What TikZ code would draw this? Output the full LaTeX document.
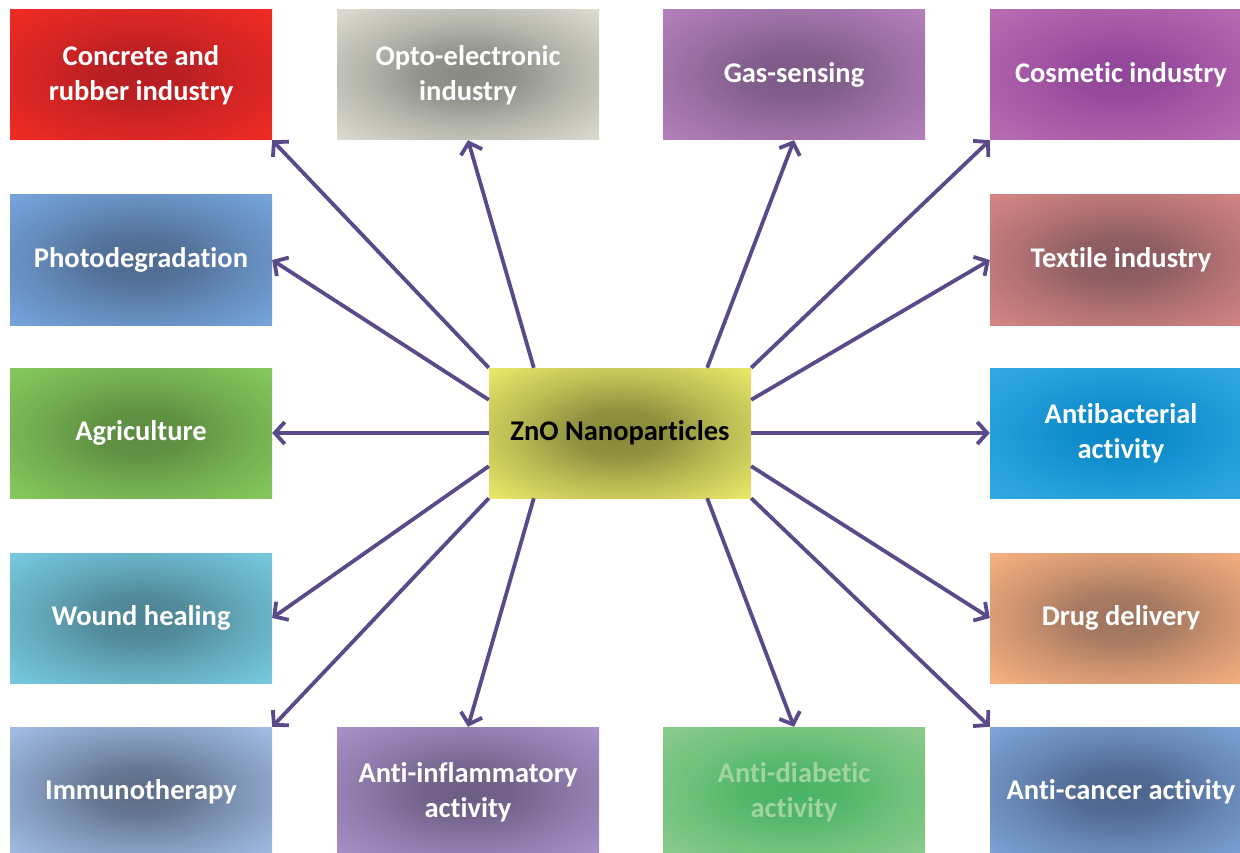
\documentclass[tikz,border=0pt]{standalone}
\usepackage{fontspec}
\setmainfont{Carlito}[Ligatures=NoCommon]
\usetikzlibrary{arrows.meta,calc}
\pgfdeclareradialshading[gin,gout]{glow}{\pgfpointorigin}{color(0bp)=(gin); color(9bp)=(gin!88!gout); color(20bp)=(gin!45!gout); color(34bp)=(gout); color(50bp)=(gout)}
\definecolor{arrowc}{HTML}{5A4A8A}
\definecolor{diabtext}{HTML}{A0D69C}
\newcommand\gbox[7][white]{\definecolor{gin}{HTML}{#5}\definecolor{gout}{HTML}{#6}\node[gbx,text=#1] (#2) at (#3,#4) {#7};}
\tikzset{
  gbx/.style={shading=glow, minimum width=262pt, minimum height=130pt, inner sep=0pt, align=center, font=\bfseries\fontsize{28.5}{35}\selectfont},
  arr/.style={draw=arrowc, line width=3.8pt, -{Straight Barb[length=10pt,width=22pt]}}
}
\begin{document}
\begin{tikzpicture}[x=1pt,y=-1pt]
\clip (0,0) rectangle (1240,853);
\fill[white] (0,0) rectangle (1240,853);
% row 1
\gbox{concrete}{141}{75}{B51E23}{EE2B24}{Concrete and\\rubber industry}
\gbox{opto}{468}{75}{878A82}{DBD9CE}{Opto-electronic\\industry}
\gbox{gas}{794}{75}{7B5A86}{B27EB9}{Gas-sensing}
\gbox{cosmetic}{1121}{75}{92469A}{B76BB0}{Cosmetic industry}
% row 2
\gbox{photo}{141}{260}{4F6A90}{74A3DA}{Photodegradation}
\gbox{textile}{1121}{260}{875A5E}{D48484}{Textile industry}
% row 3
\gbox{agri}{141}{433}{5B8B40}{86C75D}{Agriculture}
\gbox[black]{zno}{620}{433}{85863A}{E6E668}{ZnO Nanoparticles}
\gbox{antibac}{1121}{433}{0B88C8}{31A8E2}{Antibacterial\\activity}
% row 4
\gbox{wound}{141}{618}{4D8393}{76C8DC}{Wound healing}
\gbox{drug}{1121}{618}{9D735E}{F6AF7F}{Drug delivery}
% row 5
\gbox{immuno}{141}{792}{5D6D88}{A0BBE2}{Immunotherapy}
\gbox{antiinf}{468}{792}{6D5D84}{A690C6}{Anti-inflammatory\\activity}
\gbox[diabtext]{antidiab}{794}{792}{4AB365}{8ACB8C}{Anti-diabetic\\activity}
\gbox{anticancer}{1121}{792}{4C648C}{7CA2D6}{Anti-cancer activity}
% arrows
\draw[arr] (zno.north west) -- (concrete.south east);
\draw[arr] ($(zno.north west)+(45,0)$) -- (opto.south);
\draw[arr] ($(zno.north east)+(-44,0)$) -- (gas.south);
\draw[arr] (zno.north east) -- (cosmetic.south west);
\draw[arr] ($(zno.north east)+(0,32)$) -- (textile.west);
\draw[arr] (zno.east) -- (antibac.west);
\draw[arr] ($(zno.south east)+(0,-32)$) -- (drug.west);
\draw[arr] (zno.south east) -- (anticancer.north west);
\draw[arr] ($(zno.south east)+(-44,0)$) -- (antidiab.north);
\draw[arr] ($(zno.south west)+(45,0)$) -- (antiinf.north);
\draw[arr] (zno.south west) -- (immuno.north east);
\draw[arr] ($(zno.south west)+(0,-32)$) -- (wound.east);
\draw[arr] (zno.west) -- (agri.east);
\draw[arr] ($(zno.north west)+(0,32)$) -- (photo.east);
\end{tikzpicture}
\end{document}
